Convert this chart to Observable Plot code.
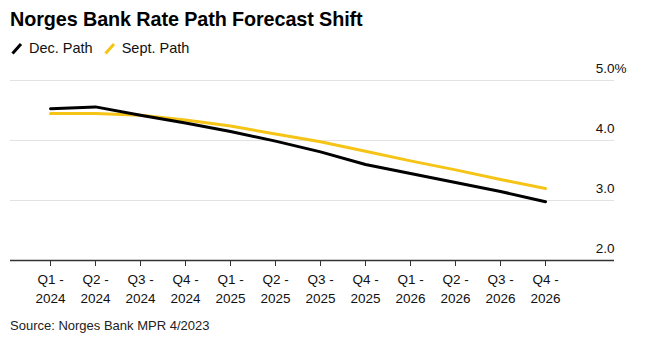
<!DOCTYPE html>
<html>
<head>
<meta charset="utf-8">
<script src="https://cdn.jsdelivr.net/npm/d3@7"></script>
<script src="https://cdn.jsdelivr.net/npm/@observablehq/plot@0.6"></script>
<style>
  body { margin: 0; background: #fff; font-family: "Liberation Sans", Arial, sans-serif; }
  #wrap { position: relative; width: 651px; height: 350px; overflow: hidden; }
  #title { position: absolute; left: 10px; top: 8px; font-size: 19.8px; font-weight: bold; color: #000; white-space: nowrap; letter-spacing: -0.1px; }
  #legend { position: absolute; left: 11px; top: 40px; font-size: 14.5px; color: #111; display: flex; align-items: center; white-space: nowrap; }
  #legend .item { display: flex; align-items: center; margin-right: 11px; }
  #legend svg { margin-right: 6px; }
  #chart { position: absolute; left: 0; top: 58px; }
  #source { position: absolute; left: 10px; top: 318px; font-size: 13px; color: #222; white-space: nowrap; }
</style>
</head>
<body>
<div id="wrap">
  <div id="title">Norges Bank Rate Path Forecast Shift</div>
  <div id="legend"></div>
  <div id="chart"></div>
  <div id="source">Source: Norges Bank MPR 4/2023</div>
</div>
<script>
const quarters = ["Q1 - 2024","Q2 - 2024","Q3 - 2024","Q4 - 2024","Q1 - 2025","Q2 - 2025","Q3 - 2025","Q4 - 2025","Q1 - 2026","Q2 - 2026","Q3 - 2026","Q4 - 2026"];
const decPath  = [4.53, 4.56, 4.42, 4.29, 4.15, 3.99, 3.81, 3.60, 3.45, 3.30, 3.15, 2.98];
const septPath = [4.45, 4.45, 4.42, 4.34, 4.24, 4.11, 3.98, 3.82, 3.66, 3.51, 3.35, 3.20];
const seriesNames = ["Dec. Path", "Sept. Path"];
const seriesColors = ["#000000", "#f5c416"];
const yTicks = [2, 3, 4, 5];

// legend
const legend = document.getElementById("legend");
seriesNames.forEach((name, i) => {
  const item = document.createElement("div");
  item.className = "item";
  item.innerHTML = `<svg width="12" height="13"><line x1="1.5" y1="11.5" x2="10" y2="2" stroke="${seriesColors[i]}" stroke-width="3" stroke-linecap="butt"/></svg><span>${name}</span>`;
  legend.appendChild(item);
});

const data = [];
quarters.forEach((q, i) => {
  data.push({q, v: decPath[i], s: seriesNames[0]});
  data.push({q, v: septPath[i], s: seriesNames[1]});
});

const chart = Plot.plot({
  width: 651,
  height: 252,
  marginTop: 22,
  marginBottom: 50,
  marginLeft: 10,
  marginRight: 37,
  style: { fontFamily: "Liberation Sans, Arial, sans-serif", background: "#fff" },
  x: { type: "point", domain: quarters, range: [45, 549], padding: 0 },
  y: { domain: [2, 5], axis: null },
  color: { domain: seriesNames, range: seriesColors },
  marks: [
    Plot.ruleY(yTicks.filter(d => d > 2), { stroke: "#e2e2e2", strokeWidth: 1.2 }),
    Plot.lineY(data.filter(d => d.s === seriesNames[1]), { x: "q", y: "v", stroke: "s", strokeWidth: 3 }),
    Plot.lineY(data.filter(d => d.s === seriesNames[0]), { x: "q", y: "v", stroke: "s", strokeWidth: 3 }),
    Plot.ruleY([2], { stroke: "#333", strokeWidth: 1.3 }),
    Plot.axisX({ anchor: "bottom", tickSize: 6, tickPadding: 4, stroke: "#333", fontSize: 13.5, fill: "#111",
      tickFormat: d => d.replace(" - ", " -\n"), lineHeight: 1.4, label: null }),
    Plot.text(yTicks, { y: d => d, text: d => d.toFixed(1), frameAnchor: "right", textAnchor: "end", dy: -12, fontSize: 13.5, fill: "#111" }),
    Plot.text(yTicks.filter(d => d === 5), { y: d => d, text: () => "%", frameAnchor: "right", textAnchor: "start", dy: -12, fontSize: 13.5, fill: "#111" })
  ]
});
document.getElementById("chart").appendChild(chart);
</script>
</body>
</html>
